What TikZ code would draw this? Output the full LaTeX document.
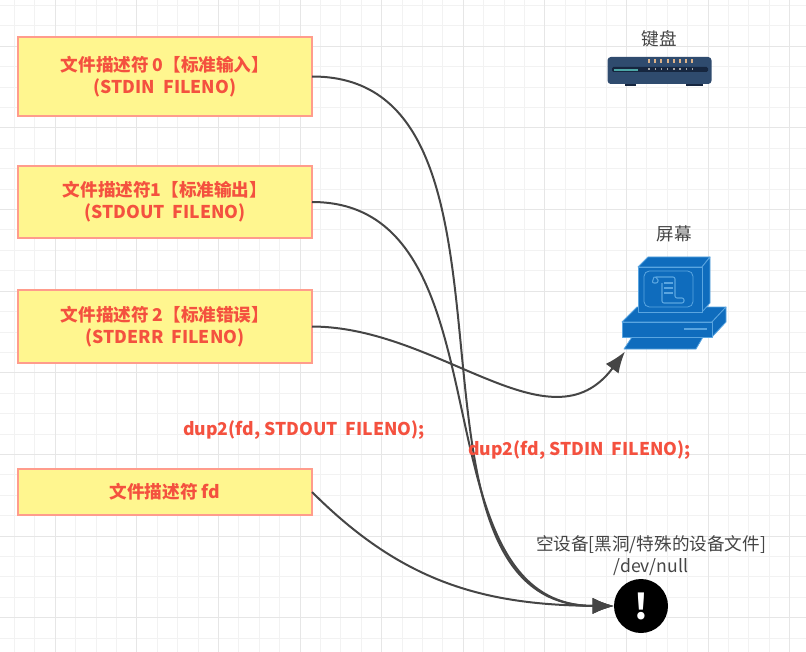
\documentclass[tikz,border=0pt]{standalone}
\usepackage{fontspec}
\setmainfont{Noto Sans CJK SC}
\usetikzlibrary{positioning,arrows.meta}
\definecolor{gridminor}{HTML}{F2F2F2}
\definecolor{gridmajor}{HTML}{E6E6E6}
\definecolor{boxfill}{HTML}{FFF68F}
\definecolor{boxline}{HTML}{FF9C8C}
\definecolor{redtext}{HTML}{F4513F}
\definecolor{graytext}{HTML}{444444}
\definecolor{edgegray}{HTML}{454545}
\definecolor{pcblue}{HTML}{0F6CBD}
\definecolor{pcline}{HTML}{5AA5E0}
\definecolor{kbblue}{HTML}{2F4B6E}
\definecolor{kbdark}{HTML}{16263F}
\tikzset{
	fdbox/.style={draw=boxline,fill=boxfill,line width=1.5pt,minimum width=220.5pt,outer sep=0pt,inner sep=0pt,align=center,text=redtext,font=\bfseries\fontsize{13.2}{16.5}\selectfont},
	redlabel/.style={text=redtext,font=\bfseries\fontsize{13.2}{16.5}\selectfont,inner sep=0pt},
	graylabel/.style={text=graytext,font=\fontsize{13.2}{16.5}\selectfont,align=center,inner sep=0pt},
	pcpart/.style={fill=pcblue,draw=pcline,line width=.6pt,line join=round},
	fdedge/.style={draw=edgegray,line width=1.5pt,-{Latex[length=16pt,width=12pt]}}
}
\begin{document}
\begin{tikzpicture}[x=0.75pt,y=-0.75pt]
	\useasboundingbox (0,0) rectangle (806,652);

	\foreach \x in {14.5,34.9,...,806} \draw[gridminor,line width=.75pt] (\x,0) -- (\x,652);
	\foreach \y in {5.6,26,...,652} \draw[gridminor,line width=.75pt] (0,\y) -- (806,\y);
	\foreach \x in {55.3,136.9,...,806} \draw[gridmajor,line width=.75pt] (\x,0) -- (\x,652);
	\foreach \y in {46.4,128,...,652} \draw[gridmajor,line width=.75pt] (0,\y) -- (806,\y);

	\node[fdbox,minimum height=59.25pt] (fd0) at (165,76.5) {文件描述符 0【标准输入】\\(STDIN\ \ FILENO)};
	\node[fdbox,minimum height=54pt,below=37.5pt of fd0] (fd1) {文件描述符1【标准输出】\\(STDOUT\ \ FILENO)};
	\node[fdbox,minimum height=54.75pt,below=39pt of fd1] (fd2) {文件描述符 2【标准错误】\\(STDERR\ \ FILENO)};
	\node[fdbox,minimum height=34.5pt,below=79.5pt of fd2] (fdnew) {文件描述符 fd};

	\node[redlabel] (dupout) at (304,430.5) {dup2(fd, STDOUT\ \ FILENO);};
	\node[graylabel] (kbtitle) at (659,38.5) {键盘};
	\node[graylabel] (screentitle) at (674,233.5) {屏幕};
	\node[graylabel] (nulltitle) at (651,556) {空设备[黑洞/特殊的设备文件]\\/dev/null};

	\fill[kbdark] (625,84) rectangle (636,86);
	\fill[kbdark] (686,84) rectangle (703,86);
	\fill[kbblue,rounded corners=2.5pt] (607.5,57) rectangle (711.5,84);
	\fill[kbdark,rounded corners=1pt] (612,67) rectangle (708,72);
	\fill[teal!70!white] (614,69) rectangle (638,71);
	\foreach \x in {649,655.2,...,694} {
		\fill[gray!45!orange!60!white] (\x-1,59) rectangle (\x+1,63.5);
		\fill[gray!70!white] (\x-.7,68.5) rectangle (\x+.7,70.5);
	}

	\draw[pcpart] (632,337) -- (703,337) -- (696,349) -- (624,349) -- cycle;
	\draw[pcpart] (622,322) -- (637,307) -- (726,307) -- (712,322) -- cycle;
	\draw[pcpart] (712,322) -- (726,307) -- (726,322) -- (712,337) -- cycle;
	\draw[pcpart] (622,322) rectangle (712,337);
	\draw[pcline,line width=1pt] (684,329) -- (707,329);
	\draw[pcpart] (638,267) -- (648,257) -- (710,257) -- (702,267) -- cycle;
	\draw[pcpart] (702,267) -- (710,257) -- (710,303) -- (702,312) -- cycle;
	\draw[pcpart] (638,267) rectangle (702,312);
	\draw[pcline,line width=.6pt,rounded corners=4pt] (644,271) rectangle (693,307);
	\draw[pcline,line width=.8pt,rounded corners=1.5pt] (654,277) -- (652,283) -- (658,283) -- (658,278) -- (654,277) -- (675,277) -- (675,298) -- (684,298) -- (684,303) -- (662,303) -- (662,283);
	\foreach \y in {283,288,293} \draw[pcline,line width=1pt] (664,\y) -- (673,\y);
	\coordinate (screenin) at (625,351.5);

	\node[circle,fill=black,minimum size=40.5pt,inner sep=0pt,outer sep=0pt,text=white,font=\bfseries\fontsize{26}{26}\selectfont] (nulldev) at (641,606) {!};

	\draw[fdedge] (fd0.east) .. controls (552,76) and (374,606) .. (nulldev.west);
	\draw[fdedge] (fd1.east) .. controls (516,202) and (410,606) .. (nulldev.west);
	\draw[fdedge] (fd2.east) .. controls (440,327) and (550,452) .. (screenin);
	\draw[fdedge] (fdnew.east) .. controls (400,580) and (480,605) .. (nulldev.west);

	\node[redlabel] (dupin) at (579.5,450.5) {dup2(fd, STDIN\ \ FILENO);};
\end{tikzpicture}
\end{document}
